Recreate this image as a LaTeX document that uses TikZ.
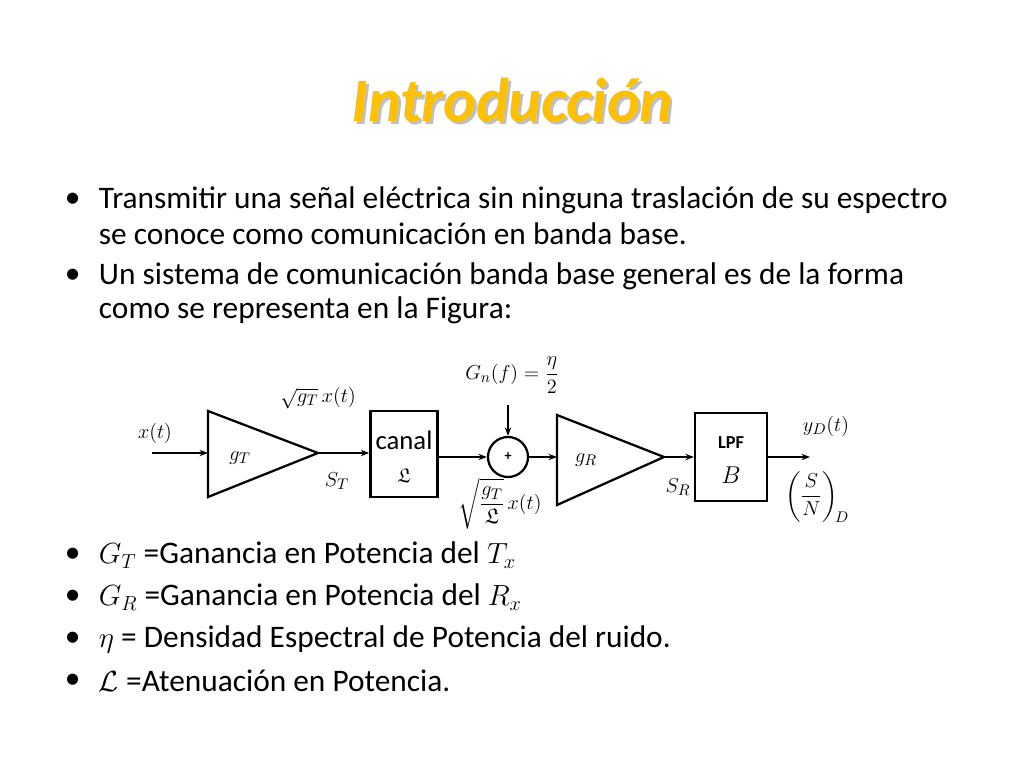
\documentclass[tikz,border=0pt]{standalone}
\usepackage{amsmath,amssymb}
\usepackage{fontspec}
\setmainfont{Carlito}
\usetikzlibrary{arrows.meta}
\definecolor{titleYellow}{RGB}{255,192,0}
\begin{document}
\begin{tikzpicture}[x=0.025cm, y=-0.025cm, >={Stealth[length=6pt]},
    body/.style={anchor=west, font=\fontsize{22.3}{26}\selectfont},
    blk/.style={draw, line width=1.6pt, minimum width=1.68cm, minimum height=2.15cm},
    lbl/.style={font=\fontsize{15}{17}\selectfont},
    sig/.style={->, line width=1.2pt}]
  \useasboundingbox (0,0) rectangle (1024,768);
  % --- titulo ---
  \node[font=\fontsize{44}{50}\selectfont\bfseries\itshape, text=black!50, opacity=0.5] at (515,103) {Introducción};
  \node[font=\fontsize{44}{50}\selectfont\bfseries\itshape, text=titleYellow] (title) at (512,100) {Introducción};
  % --- vinetas ---
  \foreach \y/\t in {200/{Transmitir una señal eléctrica sin ninguna traslación de su espectro},
                     276/{Un sistema de comunicación banda base general es de la forma},
                     555/{$G_T$ =Ganancia en Potencia del $T_x$},
                     597/{$G_R$ =Ganancia en Potencia del $R_x$},
                     639/{$\eta$ = Densidad Espectral de Potencia del ruido.},
                     681/{$\mathcal{L}$ =Atenuación en Potencia.}}
    {\node[body] at (60,\y) {\textbullet}; \node[body] at (94,\y) {\t};}
  \node[body] at (94,234) {se conoce como comunicación en banda base.};
  \node[body] at (94,310) {como se representa en la Figura:};
  % --- diagrama ---
  \coordinate (in) at (152,453);
  \draw[line width=1.6pt] (208,411) -- (318,453) -- (208,497) -- cycle;
  \coordinate (gTin) at (208,453);
  \coordinate (gTout) at (318,453);
  \node[lbl] (gT) at (240,458) {$g_T$};
  \node[lbl] (xin) at (155,433) {$x(t)$};
  \node[lbl] (sT) at (337,481) {$S_T$};
  \node[lbl] (s1) at (318,398) {$\sqrt{g_T}\,x(t)$};
  \node[blk] (canal) at (404,454) {};
  \node[font=\fontsize{19}{22}\selectfont] (canalT) at (404,440) {canal};
  \node[font=\fontsize{14}{16}\selectfont] (canalL) at (404,476) {$\mathfrak{L}$};
  \node[draw, circle, line width=1.6pt, minimum size=1cm, inner sep=0pt] (sum) at (508,457) {\bfseries +};
  \coordinate (noise) at (508,405);
  \node[lbl] (gn) at (512,375) {$G_n(f)=\dfrac{\eta}{2}$};
  \node[lbl] (s2) at (500,504) {$\sqrt{\dfrac{g_T}{\mathfrak{L}}}\,x(t)$};
  \draw[line width=1.6pt] (557,415) -- (664,457) -- (557,505) -- cycle;
  \coordinate (gRin) at (557,457);
  \coordinate (gRout) at (664,457);
  \node[lbl] (gR) at (586,460) {$g_R$};
  \node[lbl] (sR) at (678,487) {$S_R$};
  \node[blk, minimum width=1.8cm, minimum height=2.2cm] (lpf) at (731,457) {};
  \node[font=\fontsize{13}{16}\selectfont\bfseries] (lpfT) at (731,443) {LPF};
  \node[font=\fontsize{19}{20}\selectfont] (lpfB) at (731,475) {$B$};
  \coordinate (out) at (810,457);
  \node[lbl] (yD) at (826,426) {$y_D(t)$};
  \node[lbl] (snr) at (817,497) {$\left(\dfrac{S}{N}\right)_{\!D}$};
  \draw[sig] (in) -- (gTin);
  \draw[sig] (gTout) -- (canal.west |- gTout);
  \draw[sig] (canal.east |- sum) -- (sum.west);
  \draw[sig] (noise) -- (sum.north);
  \draw[sig] (sum.east) -- (gRin);
  \draw[sig] (gRout) -- (lpf.west |- gRout);
  \draw[sig] (lpf.east |- out) -- (out);
\end{tikzpicture}
\end{document}
